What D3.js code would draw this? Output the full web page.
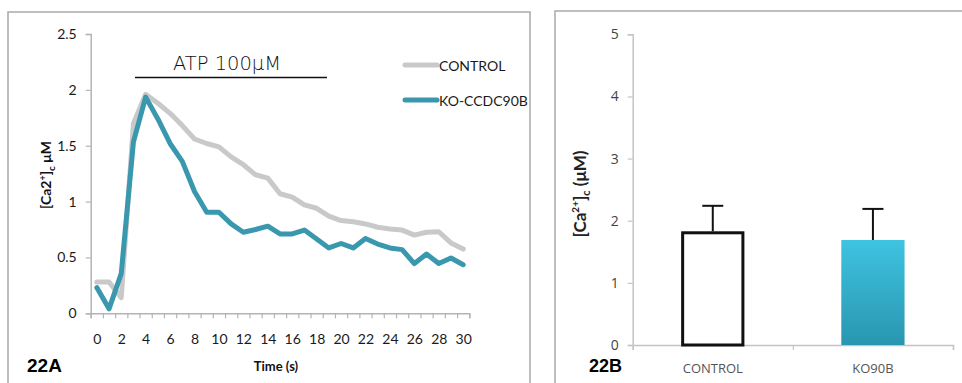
<!DOCTYPE html>
<html>
<head>
<meta charset="utf-8">
<script src="https://cdn.jsdelivr.net/npm/d3@7/dist/d3.min.js"></script>
<style>
  html, body { margin: 0; padding: 0; background: #fff; }
  svg { display: block; }
  text { font-family: Lato, "Open Sans", sans-serif; }
</style>
</head>
<body>
<svg id="fig" width="962" height="383"></svg>
<script>
// Time course (22A): cytosolic Ca2+ after ATP stimulation
const timePoints = [0,1,2,3,4,5,6,7,8,9,10,11,12,13,14,15,16,17,18,19,20,21,22,23,24,25,26,27,28,29,30];
const controlTrace = [0.28,0.28,0.14,1.70,1.96,1.88,1.79,1.68,1.56,1.52,1.49,1.40,1.33,1.24,1.21,1.07,1.04,0.97,0.94,0.87,0.83,0.82,0.80,0.77,0.755,0.745,0.70,0.725,0.73,0.63,0.575];
const koTrace = [0.23,0.04,0.355,1.535,1.935,1.74,1.52,1.36,1.09,0.905,0.905,0.80,0.725,0.75,0.78,0.71,0.71,0.745,0.665,0.585,0.625,0.585,0.67,0.62,0.585,0.57,0.445,0.53,0.445,0.495,0.435];
const timeTickLabels = [0,2,4,6,8,10,12,14,16,18,20,22,24,26,28,30];
const lineYTicks = [0,0.5,1,1.5,2,2.5];
const seriesNames = ["CONTROL", "KO-CCDC90B"];

// Peak summary (22B)
const barGroups = ["CONTROL", "KO90B"];
const barMeans = [1.83, 1.69];
const barErrors = [0.41, 0.50];
const barYTicks = [0,1,2,3,4,5];

const svg = d3.select("#fig");
const axisGray = "#b4b4b4";
const frameGray = "#a9a9a9";
const grayLine = "#c9c9c9";
const tealLine = "#3a98ae";

// Panel frames
svg.append("path").attr("d", "M8,383V12H530V383")
  .attr("fill", "none").attr("stroke", frameGray).attr("stroke-width", 1.5);
svg.append("path").attr("d", "M555,383V11H962")
  .attr("fill", "none").attr("stroke", frameGray).attr("stroke-width", 1.5);

// ---------- Panel A ----------
const gA = svg.append("g");
const xEdge = d3.scaleLinear().domain([-0.5, 30.5]).range([90.7, 469.3]);
const yA = d3.scaleLinear().domain([0, 2.5]).range([313.3, 34]);

// x axis: tick marks at category boundaries
const xTicksAxis = d3.axisBottom(xEdge)
  .tickValues(d3.range(-0.5, 30.6, 1)).tickSize(5).tickFormat("");
const gxA = gA.append("g").attr("transform", `translate(0,${yA(0)})`).call(xTicksAxis);
gxA.select(".domain").attr("stroke", axisGray).attr("stroke-width", 1.5);
gxA.selectAll(".tick line").attr("stroke", axisGray).attr("stroke-width", 1.2);

const xLabelsAxis = d3.axisBottom(xEdge).tickValues(timeTickLabels).tickSize(0).tickPadding(21);
const gxL = gA.append("g").attr("transform", `translate(0,${yA(0)})`).call(xLabelsAxis);
gxL.select(".domain").remove();
gxL.selectAll("text").attr("font-size", 14).attr("fill", "#1a1a1a")
  .style("font-family", "Lato, sans-serif");

// y axis
const yAxisA = d3.axisLeft(yA).tickValues(lineYTicks).tickSize(5).tickPadding(9)
  .tickFormat(d => String(d));
const gyA = gA.append("g").attr("transform", `translate(${xEdge(-0.5)},0)`).call(yAxisA);
gyA.select(".domain").attr("stroke", axisGray).attr("stroke-width", 1.5);
gyA.selectAll(".tick line").attr("stroke", axisGray).attr("stroke-width", 1.2);
gyA.selectAll("text").attr("font-size", 14).attr("fill", "#1a1a1a")
  .style("font-family", "Lato, sans-serif");

// traces
const lineGen = d3.line().x((d, i) => xEdge(timePoints[i])).y(d => yA(d)).curve(d3.curveLinear);
gA.append("path").datum(controlTrace).attr("d", lineGen)
  .attr("fill", "none").attr("stroke", grayLine).attr("stroke-width", 5)
  .attr("stroke-linejoin", "round").attr("stroke-linecap", "round");
gA.append("path").datum(koTrace).attr("d", lineGen)
  .attr("fill", "none").attr("stroke", tealLine).attr("stroke-width", 5)
  .attr("stroke-linejoin", "round").attr("stroke-linecap", "round");

// ATP bar and label
gA.append("line").attr("x1", 135).attr("x2", 327).attr("y1", 77.5).attr("y2", 77.5)
  .attr("stroke", "#111").attr("stroke-width", 1.3);
gA.append("text").attr("x", 227).attr("y", 69.5).attr("text-anchor", "middle")
  .attr("font-size", 19).attr("fill", "#111")
  .style("font-family", "'DejaVu Sans', sans-serif").style("font-weight", 300)
  .attr("textLength", 108).attr("lengthAdjust", "spacingAndGlyphs")
  .text("ATP 100μM");

// legend
const legColors = [grayLine, tealLine];
const legY = [65, 100];
seriesNames.forEach((name, i) => {
  gA.append("line").attr("x1", 405).attr("x2", 437).attr("y1", legY[i]).attr("y2", legY[i])
    .attr("stroke", legColors[i]).attr("stroke-width", 5).attr("stroke-linecap", "round");
  gA.append("text").attr("x", 439).attr("y", legY[i] + 6).attr("font-size", 14)
    .attr("fill", "#1a1a1a").text(name);
});

// axis titles
const yTitleA = gA.append("text").attr("transform", "translate(51,175) rotate(-90)")
  .attr("text-anchor", "middle").attr("font-size", 14).attr("font-weight", 700).attr("fill", "#111");
yTitleA.append("tspan").text("[Ca2");
yTitleA.append("tspan").attr("font-size", 9).attr("dy", -5).text("+");
yTitleA.append("tspan").attr("dy", 5).text("]");
yTitleA.append("tspan").attr("font-size", 10).attr("dy", 4).text("c");
yTitleA.append("tspan").attr("dy", -4).text(" μM");

gA.append("text").attr("x", 276).attr("y", 371).attr("text-anchor", "middle")
  .attr("font-size", 13).attr("font-weight", 700).attr("fill", "#111").text("Time (s)");
gA.append("text").attr("x", 27).attr("y", 372).attr("font-size", 19)
  .attr("font-weight", 700).attr("fill", "#000")
  .style("font-family", "'Liberation Sans', Arial, sans-serif").text("22A");

// ---------- Panel B ----------
const gB = svg.append("g");
const xB = d3.scaleBand().domain(barGroups).range([632.7, 953]).padding(0);
const yB = d3.scaleLinear().domain([0, 5]).range([345, 34.3]);
const barW = xB.bandwidth() * 0.395;

const defs = svg.append("defs");
const grad = defs.append("linearGradient").attr("id", "koFill")
  .attr("x1", 0).attr("y1", 0).attr("x2", 0).attr("y2", 1);
grad.append("stop").attr("offset", "0%").attr("stop-color", "#3ec3e0");
grad.append("stop").attr("offset", "100%").attr("stop-color", "#2996b1");

// x axis with boundary ticks
const xBEdge = d3.scaleLinear().domain([0, 2]).range(xB.range());
const gxB = gB.append("g").attr("transform", `translate(0,${yB(0)})`)
  .call(d3.axisBottom(xBEdge).tickValues([0, 1, 2]).tickSize(5).tickFormat(""));
gxB.select(".domain").attr("stroke", "#c4c4c4").attr("stroke-width", 1.5);
gxB.selectAll(".tick line").attr("stroke", "#c4c4c4").attr("stroke-width", 1.2);

const gxBL = gB.append("g").attr("transform", `translate(0,${yB(0)})`)
  .call(d3.axisBottom(xB).tickSize(0).tickPadding(19));
gxBL.select(".domain").remove();
gxBL.selectAll("text").attr("font-size", 13).attr("fill", "#555")
  .style("font-family", "'Open Sans', sans-serif");

const gyB = gB.append("g").attr("transform", `translate(${xB.range()[0]},0)`)
  .call(d3.axisLeft(yB).tickValues(barYTicks).tickSize(5).tickPadding(9).tickFormat(d3.format("d")));
gyB.select(".domain").attr("stroke", "#c4c4c4").attr("stroke-width", 1.5);
gyB.selectAll(".tick line").attr("stroke", "#c4c4c4").attr("stroke-width", 1.2);
gyB.selectAll("text").attr("font-size", 14).attr("fill", "#444")
  .style("font-family", "'Open Sans', sans-serif");

// error bars (upper only), drawn beneath the bars
barGroups.forEach((g, i) => {
  const cx = xB(g) + xB.bandwidth() / 2;
  gB.append("line").attr("x1", cx).attr("x2", cx)
    .attr("y1", yB(barMeans[i])).attr("y2", yB(barMeans[i] + barErrors[i]))
    .attr("stroke", "#111").attr("stroke-width", 2);
  gB.append("line").attr("x1", cx - 10.5).attr("x2", cx + 10.5)
    .attr("y1", yB(barMeans[i] + barErrors[i])).attr("y2", yB(barMeans[i] + barErrors[i]))
    .attr("stroke", "#111").attr("stroke-width", 2);
});

// bars
gB.selectAll("rect.bar").data(barGroups).join("rect").attr("class", "bar")
  .attr("x", (d, i) => xB(d) + xB.bandwidth() / 2 - barW / 2 + (i === 0 ? 1.5 : 0))
  .attr("y", (d, i) => yB(barMeans[i]) + (i === 0 ? 1.5 : 0))
  .attr("width", (d, i) => barW - (i === 0 ? 3 : 0))
  .attr("height", (d, i) => yB(0) - yB(barMeans[i]) - (i === 0 ? 1.5 : 0))
  .attr("fill", (d, i) => i === 0 ? "#fff" : "url(#koFill)")
  .attr("stroke", (d, i) => i === 0 ? "#111" : "none")
  .attr("stroke-width", 3);

const yTitleB = gB.append("text").attr("transform", "translate(586,194) rotate(-90)")
  .attr("text-anchor", "middle").attr("font-size", 17).attr("font-weight", 700).attr("fill", "#222");
yTitleB.append("tspan").text("[Ca");
yTitleB.append("tspan").attr("font-size", 10).attr("dy", -7).text("2+");
yTitleB.append("tspan").attr("dy", 7).text("]");
yTitleB.append("tspan").attr("font-size", 11).attr("dy", 4).text("c");
yTitleB.append("tspan").attr("dy", -4).text(" (μM)");

gB.append("text").attr("x", 589).attr("y", 372).attr("font-size", 18)
  .attr("font-weight", 700).attr("fill", "#000")
  .style("font-family", "'Liberation Sans', Arial, sans-serif").text("22B");
</script>
</body>
</html>
